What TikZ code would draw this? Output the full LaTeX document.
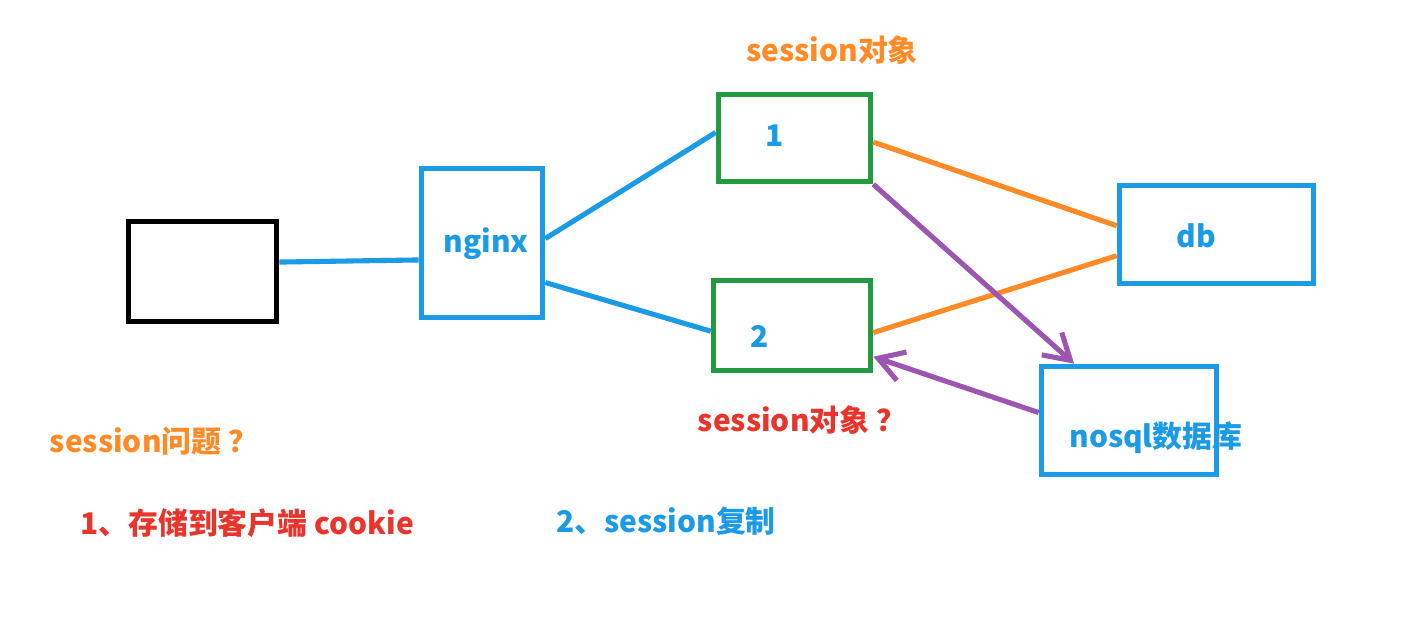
\documentclass[tikz,border=0pt]{standalone}
\usepackage{fontspec}
\setmainfont{Noto Sans CJK SC}
\usetikzlibrary{arrows.meta}
\definecolor{lblue}{RGB}{27,154,230}
\definecolor{lgreen}{RGB}{34,155,64}
\definecolor{lorange}{RGB}{255,138,38}
\definecolor{lred}{RGB}{232,52,42}
\definecolor{lpurple}{RGB}{156,85,176}

\begin{document}
\begin{tikzpicture}
  \tikzstyle{box}=[rectangle,draw,line width=1.6pt,inner sep=0pt]
  \tikzstyle{word}=[font=\bfseries\fontsize{8.5}{10}\selectfont,inner sep=0pt]
  \tikzstyle{wire}=[line width=1.45pt]
  \useasboundingbox (0,0) rectangle (14.08,-6.39);
  \coordinate (c) at (0,0);

  \draw (c)++(2.025,-2.715) node[box,draw=black,minimum width=1.48cm,minimum height=1.00cm] (U){};
  \draw (c)++(4.82,-2.43) node[box,draw=lblue,minimum width=1.21cm,minimum height=1.49cm] (N){};
  \draw (c)++(7.945,-1.38) node[box,draw=lgreen,minimum width=1.52cm,minimum height=0.87cm] (S1){};
  \draw (c)++(7.92,-3.255) node[box,draw=lgreen,minimum width=1.57cm,minimum height=0.90cm] (S2){};
  \draw (c)++(12.165,-2.345) node[box,draw=lblue,minimum width=1.94cm,minimum height=0.98cm] (DB){};
  \draw (c)++(11.29,-4.205) node[box,draw=lblue,minimum width=1.75cm,minimum height=1.08cm] (R){};

  \draw (c)++(4.86,-2.44) node[word,text=lblue] (tN){nginx};
  \draw (c)++(7.75,-1.36) node[word,text=lblue] (t1){1};
  \draw (c)++(7.60,-3.36) node[word,text=lblue] (t2){2};
  \draw (c)++(11.96,-2.36) node[word,text=lblue] (tDB){db};
  \draw (c)++(11.56,-4.38) node[word,text=lblue] (tR){nosql数据库};

  \draw (c)++(8.32,-0.50) node[word,text=lorange] (o1){session对象};
  \draw (c)++(8.02,-4.20) node[word,text=lred] (o2){session对象 ？};
  \draw (c)++(1.54,-4.41) node[word,text=lorange] (q){session问题 ？};
  \draw (c)++(2.47,-5.23) node[word,text=lred] (a1){1、存储到客户端 cookie};
  \draw (c)++(6.66,-5.21) node[word,text=lblue] (a2){2、session复制};

  \draw[wire,lblue] (U.7) -- (N.195);
  \draw[wire,lblue] (N.4.5) -- (S1.176);
  \draw[wire,lblue] (N.-32) -- (S2.184);
  \draw[wire,lorange] (S1.-3) -- (DB.175.6);
  \draw[wire,lorange] (S2.-5.4) -- (DB.192);
  \draw[wire,lpurple,-{Straight Barb[length=2.5mm,width=3mm]}] (S1.south east) -- (R.134.2);
  \draw[wire,lpurple,-{Straight Barb[length=2.5mm,width=3mm]}] (R.175.8) -- (S2.-21.7);
\end{tikzpicture}
\end{document}
